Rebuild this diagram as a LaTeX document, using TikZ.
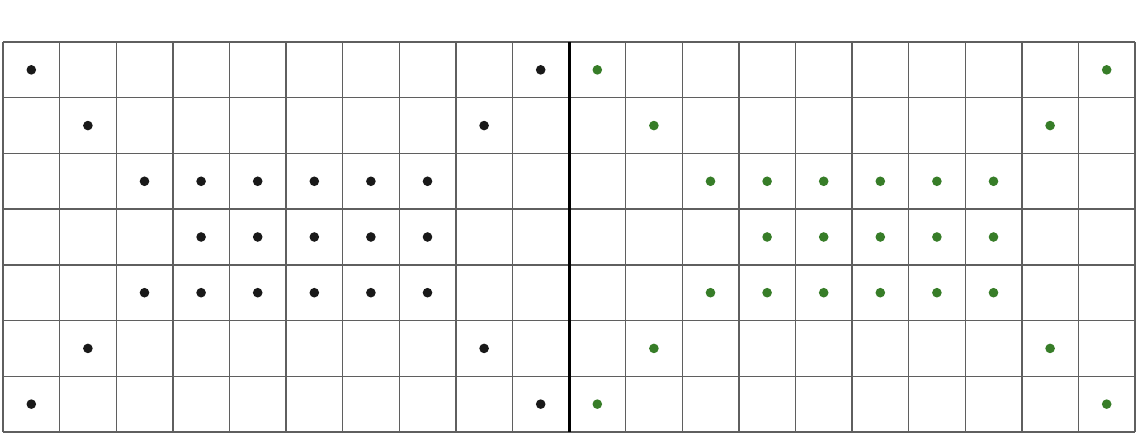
\documentclass[tikz,border=0pt]{standalone}
\definecolor{gridc}{RGB}{95,95,95}
\definecolor{dotk}{RGB}{25,25,25}
\definecolor{dotg}{RGB}{55,125,40}
\tikzset{
  gridline/.style={draw=gridc, line width=1.4pt},
  midline/.style={draw=black, line width=3pt},
  kdot/.style={fill=dotk},
  gdot/.style={fill=dotg},
}
\begin{document}
\begin{tikzpicture}[x=1pt,y=-1pt]
\useasboundingbox (0,0) rectangle (1136,437);
\fill[white] (0,0) rectangle (1136,437);
\def\cw{56.6}
\def\rh{55.71}
% grid
\foreach \i in {0,...,20}{
  \draw[gridline] ({3+\i*\cw},42) -- ({3+\i*\cw},432);
}
\foreach \j in {0,...,7}{
  \draw[gridline] (3,{42+\j*\rh}) -- (1135,{42+\j*\rh});
}
\draw[midline] ({3+10*\cw},42) -- ({3+10*\cw},432);
% dots: list of row/col pairs for left half
\foreach \r/\c in {0/0,0/9,1/1,1/8,2/2,2/3,2/4,2/5,2/6,2/7,3/3,3/4,3/5,3/6,3/7,4/2,4/3,4/4,4/5,4/6,4/7,5/1,5/8,6/0,6/9}{
  \fill[kdot] ({3+(\c+0.5)*\cw},{42+(\r+0.5)*\rh}) circle (4.8);
  \fill[gdot] ({3+(\c+10.5)*\cw},{42+(\r+0.5)*\rh}) circle (4.8);
}
\end{tikzpicture}
\end{document}
